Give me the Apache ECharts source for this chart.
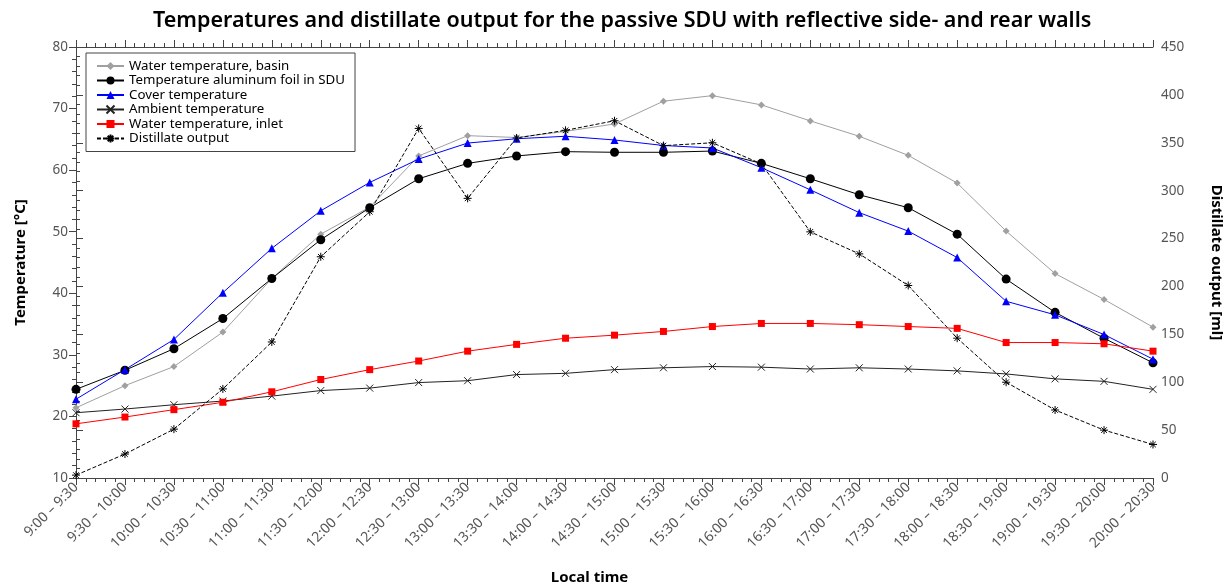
<!DOCTYPE html>
<html>
<head>
<meta charset="utf-8">
<script src="https://cdn.jsdelivr.net/npm/echarts@6/dist/echarts.min.js"></script>
<style>
html, body { margin: 0; padding: 0; background: #fff; }
#chart { width: 1228px; height: 585px; }
</style>
</head>
<body>
<div id="chart"></div>
<script>
var timeSlots = ['9:00 – 9:30', '9:30 – 10:00', '10:00 – 10:30', '10:30 – 11:00', '11:00 – 11:30',
	'11:30 – 12:00', '12:00 – 12:30', '12:30 – 13:00', '13:00 – 13:30', '13:30 – 14:00',
	'14:00 – 14:30', '14:30 – 15:00', '15:00 – 15:30', '15:30 – 16:00', '16:00 – 16:30',
	'16:30 – 17:00', '17:00 – 17:30', '17:30 – 18:00', '18:00 – 18:30', '18:30 – 19:00',
	'19:00 – 19:30', '19:30 – 20:00', '20:00 – 20:30'];

var waterBasin = [21.4, 25.0, 28.1, 33.7, 42.4, 49.6, 54.0, 62.3, 65.6, 65.3, 66.3, 67.5,
	71.2, 72.1, 70.6, 68.0, 65.5, 62.4, 57.9, 50.1, 43.2, 39.0, 34.5];
var foilTemp = [24.4, 27.5, 31.0, 35.9, 42.4, 48.7, 53.9, 58.6, 61.1, 62.3, 63.0, 62.9,
	62.9, 63.1, 61.1, 58.6, 56.0, 53.9, 49.6, 42.3, 36.9, 32.7, 28.7];
var coverTemp = [22.8, 27.6, 32.5, 40.1, 47.3, 53.4, 58.0, 61.8, 64.4, 65.1, 65.5, 64.9,
	64.0, 63.6, 60.4, 56.8, 53.1, 50.1, 45.8, 38.7, 36.5, 33.3, 29.3];
var ambientTemp = [20.6, 21.2, 21.9, 22.5, 23.3, 24.2, 24.6, 25.5, 25.8, 26.8, 27.0, 27.6,
	27.9, 28.1, 28.0, 27.7, 27.9, 27.7, 27.4, 26.9, 26.1, 25.7, 24.4];
var waterInlet = [18.8, 19.9, 21.1, 22.3, 24.0, 26.0, 27.6, 29.0, 30.6, 31.7, 32.7, 33.2,
	33.8, 34.6, 35.1, 35.1, 34.9, 34.6, 34.3, 32.0, 32.0, 31.8, 30.6];
var distillate = [3, 25, 51, 93, 142, 231, 278, 365, 292, 355, 363, 373,
	347, 350, 328, 257, 234, 201, 146, 100, 71, 50, 35];

var crossPath = 'path://M0 0 L10 10 M10 0 L0 10';
var starPath = 'path://M0 5 L10 5 M5 0 L5 10 M1.5 1.5 L8.5 8.5 M8.5 1.5 L1.5 8.5';
var fontFam = '"Noto Sans", "DejaVu Sans", sans-serif';

function toPairs(arr) {
	var out = new Array();
	for(var i = 0; i < arr.length; i++) out[i] = [i, arr[i]];
	return out;
}

function makeXAxis(pos, showLabel) {
	return {
		type: 'value',
		position: pos,
		min: 0,
		max: timeSlots.length - 1,
		interval: 1,
		name: showLabel ? 'Local time' : '',
		nameLocation: 'middle',
		nameGap: 92,
		nameTextStyle: { color: '#000', fontSize: 15, fontWeight: 'bold', fontFamily: fontFam, padding: [0, 50, 0, 0] },
		axisLine: { show: true, lineStyle: { color: '#444', width: 1 } },
		axisTick: { show: true, inside: false, length: 7, lineStyle: { color: '#444' } },
		minorTick: { show: true, splitNumber: 5, length: 4, lineStyle: { color: '#444' } },
		splitLine: { show: false },
		axisLabel: {
			show: showLabel,
			rotate: 45,
			margin: 7,
			color: '#555',
			fontSize: 14,
			fontFamily: fontFam,
			formatter: function(v) { return timeSlots[v] || ''; }
		}
	};
}

function makeYAxis(pos, min, max, interval, name, gap, rot) {
	return {
		type: 'value',
		position: pos,
		min: min,
		max: max,
		interval: interval,
		name: name,
		nameLocation: 'middle',
		nameGap: gap,
		nameRotate: rot,
		nameTextStyle: { color: '#000', fontSize: 15, fontWeight: 'bold', fontFamily: fontFam },
		axisLine: { show: true, lineStyle: { color: '#444', width: 1 } },
		axisTick: { show: true, inside: false, length: 7, lineStyle: { color: '#444' } },
		minorTick: { show: true, splitNumber: 5, length: 4, lineStyle: { color: '#444' } },
		splitLine: { show: false },
		axisLabel: { color: '#555', fontSize: 13.5, margin: 8, fontFamily: fontFam }
	};
}

function makeSeries(name, data, color, symbol, size, yIndex, dashed, filled) {
	return {
		name: name,
		type: 'line',
		yAxisIndex: yIndex,
		data: toPairs(data),
		symbol: symbol,
		symbolSize: size,
		showAllSymbol: true,
		animation: false,
		lineStyle: { color: color, width: 1, type: dashed ? [4, 2] : 'solid' },
		itemStyle: filled ? { color: color } : { color: color, borderColor: color, borderWidth: 1 },
		z: 2
	};
}

var mychart = echarts.init(document.getElementById('chart'));
var option = {
	backgroundColor: '#fff',
	animation: false,
	title: {
		text: 'Temperatures and distillate output for the passive SDU with reflective side- and rear walls',
		left: 148,
		top: 5,
		textStyle: { color: '#000', fontSize: 21.5, fontWeight: 600, fontFamily: fontFam }
	},
	legend: {
		orient: 'vertical',
		left: 86,
		top: 53,
		padding: [6, 10, 6, 10],
		borderColor: '#444',
		borderWidth: 1,
		backgroundColor: '#fff',
		itemWidth: 27,
		itemHeight: 10,
		itemGap: 0.5,
		textStyle: { color: '#000', fontSize: 13.3, lineHeight: 14, fontFamily: fontFam },
		data: ['Water temperature, basin', 'Temperature aluminum foil in SDU', 'Cover temperature',
			'Ambient temperature', 'Water temperature, inlet', 'Distillate output']
	},
	grid: { left: 76, right: 75, top: 47, bottom: 107, containLabel: false, outerBoundsMode: 'none' },
	xAxis: [makeXAxis('bottom', true), makeXAxis('top', false)],
	yAxis: [
		makeYAxis('left', 10, 80, 10, 'Temperature [°C]', 48, 90),
		makeYAxis('right', 0, 450, 50, 'Distillate output [ml]', 56, -90)
	],
	series: [
		makeSeries('Water temperature, basin', waterBasin, '#a0a0a0', 'diamond', 7, 0, false, true),
		makeSeries('Temperature aluminum foil in SDU', foilTemp, '#000', 'circle', 9, 0, false, true),
		makeSeries('Cover temperature', coverTemp, '#0000ff', 'triangle', 8, 0, false, true),
		makeSeries('Ambient temperature', ambientTemp, '#222', crossPath, 7, 0, false, false),
		makeSeries('Water temperature, inlet', waterInlet, '#ff0000', 'rect', 7, 0, false, true),
		makeSeries('Distillate output', distillate, '#000', starPath, 8, 1, true, false)
	]
};
mychart.setOption(option);
</script>
</body>
</html>
